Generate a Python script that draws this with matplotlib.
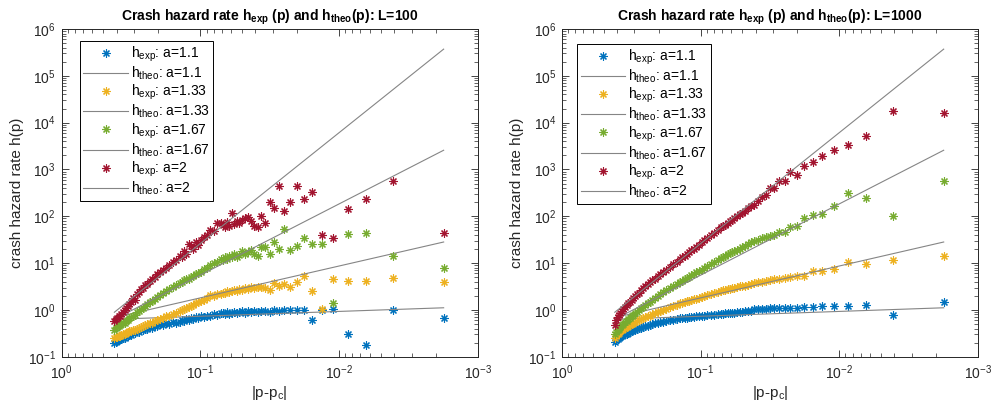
import numpy as np
import matplotlib
matplotlib.use('Agg')
import matplotlib.pyplot as plt
from matplotlib.ticker import LogLocator, LogFormatterSciNotation, NullFormatter

plt.rcParams['font.family'] = ['Liberation Sans', 'DejaVu Sans']
plt.rcParams['mathtext.fontset'] = 'custom'
plt.rcParams['mathtext.rm'] = 'Liberation Sans'
plt.rcParams['mathtext.it'] = 'Liberation Sans:italic'
plt.rcParams['mathtext.bf'] = 'Liberation Sans:bold'

# |p - p_c| values (shared by both system sizes)
abs_p_minus_pc = [
    0.00176, 0.00406, 0.00636, 0.00866, 0.01096, 0.01326, 0.01556, 0.01786, 0.02016, 0.02246,
    0.02476, 0.02706, 0.02936, 0.03166, 0.03396, 0.03626, 0.03856, 0.04086, 0.04316, 0.04546,
    0.04776, 0.05006, 0.05236, 0.05466, 0.05696, 0.05926, 0.06156, 0.06386, 0.06616, 0.06846,
    0.07076, 0.07536, 0.07996, 0.08456, 0.08916, 0.09376, 0.09836, 0.10296, 0.10756, 0.11216,
    0.11676, 0.12136, 0.12596, 0.13056, 0.13516, 0.13976, 0.14896, 0.15816, 0.16736, 0.17656,
    0.18576, 0.19496, 0.20416, 0.21336, 0.22256, 0.23176, 0.24096, 0.25016, 0.25936, 0.26856,
    0.27776, 0.28696, 0.29616, 0.30536, 0.31456, 0.32376, 0.33296, 0.34216, 0.35136, 0.36056,
    0.36976, 0.37896, 0.38816, 0.39736, 0.40656, 0.41576]

a_labels = ['1.1', '1.33', '1.67', '2']

# log10 of experimental hazard rate, L = 100
log10_hexp_L100_a1_1 = [
    -0.183, 0.0, -0.753, -0.51, 0.013, -0.013, -0.22, -0.007, -0.007, -0.007,
    -0.007, -0.02, 0.0, -0.035, -0.025, -0.02, -0.035, -0.03, -0.04, -0.03,
    -0.06, -0.03, -0.05, -0.07, -0.04, -0.06, -0.08, -0.05, -0.09, -0.07,
    -0.06, -0.11, -0.09, -0.13, -0.12, -0.16, -0.14, -0.17, -0.16, -0.20,
    -0.18, -0.22, -0.20, -0.24, -0.22, -0.25, -0.27, -0.25, -0.30, -0.28,
    -0.32, -0.31, -0.35, -0.34, -0.38, -0.37, -0.41, -0.40, -0.44, -0.43,
    -0.47, -0.46, -0.50, -0.50, -0.53, -0.53, -0.56, -0.56, -0.59, -0.59,
    -0.62, -0.63, -0.65, -0.66, -0.68, -0.70]
log10_hexp_L100_a1_33 = [
    0.599, 0.685, 0.627, 0.627, 0.663, 0.009, 0.40, 0.72, 0.60, 0.484,
    0.556, 0.505, 0.578, 0.435, 0.47, 0.48, 0.49, 0.47, 0.48, 0.44,
    0.46, 0.435, 0.45, 0.41, 0.43, 0.40, 0.38, 0.41, 0.37, 0.36,
    0.33, 0.34, 0.30, 0.31, 0.26, 0.22, 0.19, 0.16, 0.14, 0.11,
    0.09, 0.06, 0.04, 0.01, 0.0, -0.03, -0.06, -0.08, -0.12, -0.14,
    -0.17, -0.19, -0.22, -0.24, -0.27, -0.29, -0.31, -0.33, -0.35, -0.37,
    -0.39, -0.40, -0.42, -0.43, -0.45, -0.46, -0.48, -0.49, -0.51, -0.52,
    -0.54, -0.55, -0.56, -0.57, -0.58, -0.61]
log10_hexp_L100_a1_67 = [
    0.898, 1.145, 1.64, 1.62, 0.151, 1.41, 1.41, 1.53, 1.373, 1.288,
    1.736, 1.30, 1.45, 1.196, 1.34, 1.34, 1.145, 1.20, 1.288, 1.23,
    1.19, 1.25, 1.18, 1.14, 1.20, 1.12, 1.16, 1.09, 1.13, 1.06,
    1.08, 1.02, 1.00, 0.95, 0.90, 0.88, 0.80, 0.78, 0.76, 0.72,
    0.70, 0.67, 0.65, 0.63, 0.60, 0.58, 0.53, 0.48, 0.44, 0.40,
    0.36, 0.32, 0.28, 0.24, 0.20, 0.16, 0.12, 0.09, 0.05, 0.02,
    -0.02, -0.05, -0.10, -0.12, -0.16, -0.18, -0.22, -0.24, -0.27, -0.29,
    -0.31, -0.33, -0.35, -0.37, -0.39, -0.42]
log10_hexp_L100_a2 = [
    1.644, 2.759, 2.375, 2.156, 1.537, 1.593, 2.51, 2.375, 2.652, 2.30,
    2.12, 2.638, 2.168, 2.30, 1.857, 2.013, 1.763, 1.785, 1.89, 1.98,
    1.96, 1.93, 1.86, 1.90, 1.84, 2.07, 1.80, 1.87, 1.76, 1.82,
    1.86, 1.857, 1.68, 1.714, 1.60, 1.56, 1.50, 1.38, 1.45, 1.30,
    1.36, 1.416, 1.20, 1.25, 1.12, 1.15, 1.075, 1.02, 0.96, 0.90,
    0.86, 0.80, 0.76, 0.70, 0.66, 0.62, 0.56, 0.53, 0.47, 0.44,
    0.38, 0.33, 0.22, 0.25, 0.17, 0.12, 0.08, 0.03, 0.0, -0.05,
    -0.08, -0.12, -0.14, -0.17, -0.20, -0.24]

# log10 of experimental hazard rate, L = 1000
log10_hexp_L1000_a1_1 = [
    0.164, -0.10, 0.11, 0.08, 0.075, 0.08, 0.06, 0.06, 0.05, 0.045,
    0.045, 0.04, 0.03, 0.035, 0.02, 0.025, 0.01, 0.015, -0.02, -0.03,
    -0.03, -0.045, -0.04, -0.055, -0.06, -0.06, -0.07, -0.065, -0.075, -0.08,
    -0.08, -0.09, -0.10, -0.11, -0.115, -0.12, -0.13, -0.135, -0.14, -0.15,
    -0.155, -0.16, -0.165, -0.17, -0.175, -0.18, -0.20, -0.21, -0.225, -0.24,
    -0.25, -0.265, -0.28, -0.29, -0.305, -0.32, -0.335, -0.35, -0.365, -0.38,
    -0.395, -0.41, -0.425, -0.44, -0.455, -0.47, -0.49, -0.505, -0.52, -0.54,
    -0.56, -0.58, -0.60, -0.62, -0.65, -0.69]
log10_hexp_L1000_a1_33 = [
    1.16, 1.075, 0.983, 1.02, 0.876, 0.84, 0.84, 0.72, 0.725, 0.70,
    0.68, 0.665, 0.655, 0.64, 0.625, 0.60, 0.585, 0.57, 0.555, 0.535,
    0.52, 0.51, 0.50, 0.49, 0.475, 0.465, 0.455, 0.445, 0.43, 0.415,
    0.40, 0.38, 0.36, 0.34, 0.32, 0.295, 0.27, 0.255, 0.24, 0.225,
    0.21, 0.195, 0.18, 0.165, 0.15, 0.14, 0.115, 0.085, 0.055, 0.025,
    0.0, -0.025, -0.05, -0.07, -0.095, -0.12, -0.14, -0.16, -0.18, -0.20,
    -0.22, -0.24, -0.26, -0.28, -0.30, -0.32, -0.34, -0.36, -0.385, -0.41,
    -0.435, -0.46, -0.49, -0.52, -0.555, -0.60]
log10_hexp_L1000_a1_67 = [
    2.753, 2.0, 2.4, 2.503, 2.21, 2.05, 2.03, 1.96, 1.785, 1.76,
    1.665, 1.67, 1.60, 1.58, 1.565, 1.53, 1.50, 1.47, 1.44, 1.41,
    1.36, 1.335, 1.305, 1.28, 1.255, 1.23, 1.205, 1.185, 1.16, 1.13,
    1.10, 1.06, 1.02, 0.98, 0.94, 0.90, 0.86, 0.83, 0.80, 0.765,
    0.735, 0.705, 0.675, 0.65, 0.625, 0.60, 0.55, 0.50, 0.46, 0.42,
    0.375, 0.335, 0.295, 0.255, 0.215, 0.175, 0.14, 0.10, 0.065, 0.03,
    -0.005, -0.04, -0.075, -0.11, -0.14, -0.17, -0.20, -0.23, -0.265, -0.30,
    -0.33, -0.365, -0.40, -0.435, -0.47, -0.52]
log10_hexp_L1000_a2 = [
    4.20, 4.258, 3.72, 3.512, 3.405, 3.29, 3.165, 3.064, 2.88, 2.945,
    2.76, 2.76, 2.60, 2.60, 2.445, 2.405, 2.32, 2.25, 2.22, 2.17,
    2.12, 2.08, 2.04, 2.00, 1.96, 1.93, 1.89, 1.86, 1.82, 1.79,
    1.76, 1.70, 1.64, 1.59, 1.535, 1.485, 1.44, 1.395, 1.35, 1.31,
    1.27, 1.23, 1.195, 1.16, 1.125, 1.09, 1.03, 0.97, 0.91, 0.86,
    0.81, 0.76, 0.715, 0.67, 0.63, 0.585, 0.545, 0.505, 0.47, 0.43,
    0.37, 0.33, 0.29, 0.25, 0.21, 0.175, 0.14, 0.10, 0.06, 0.02,
    -0.02, -0.065, -0.11, -0.16, -0.22, -0.33]

# theoretical power laws (end points), log10 h
theo_x = [0.41576, 0.00176]
log10_htheo_a1_1 = [-0.20, 0.045]
log10_htheo_a1_33 = [-0.165, 1.45]
log10_htheo_a1_67 = [-0.20, 3.41]
log10_htheo_a2 = [-0.05, 5.57]

exp_L100 = [log10_hexp_L100_a1_1, log10_hexp_L100_a1_33, log10_hexp_L100_a1_67, log10_hexp_L100_a2]
exp_L1000 = [log10_hexp_L1000_a1_1, log10_hexp_L1000_a1_33, log10_hexp_L1000_a1_67, log10_hexp_L1000_a2]
theo = [log10_htheo_a1_1, log10_htheo_a1_33, log10_htheo_a1_67, log10_htheo_a2]

colors = ['#0072BD', '#EDB120', '#77AC30', '#A2142F']
theo_color = '#858585'
axis_color = '#262626'
asterisk = (8, 2, 0)

W, H = 996, 408
fig = plt.figure(figsize=(W / 100, H / 100), dpi=100)
ax1 = fig.add_axes([61.5 / W, (H - 356.7) / H, 416.2 / W, 327.7 / H])
ax2 = fig.add_axes([562 / W, (H - 356.7) / H, 415.7 / W, 327.7 / H])

panels = [(ax1, exp_L100, 'L=100', (0.0445, 0.963)),
          (ax2, exp_L1000, 'L=1000', (0.037, 0.954))]

x = np.array(abs_p_minus_pc)
for ax, exps, Ltxt, legpos in panels:
    ax.set_xscale('log')
    ax.set_yscale('log')
    for i, a in enumerate(a_labels):
        ax.plot(x, 10 ** np.array(exps[i]), linestyle='none', marker=asterisk,
                markersize=5.8, markeredgewidth=0.8, color=colors[i],
                label='h$_{\\rm exp}$: a=' + a)
        ax.plot(theo_x, 10 ** np.array(theo[i]), color=theo_color, lw=0.8,
                label='h$_{\\rm theo}$: a=' + a)
    ax.set_xlim(1, 1e-3)
    ax.set_ylim(1e-1, 1e6)
    ax.xaxis.set_major_locator(LogLocator(base=10, numticks=10))
    ax.xaxis.set_minor_locator(LogLocator(base=10, subs=np.arange(2, 10), numticks=10))
    ax.yaxis.set_major_locator(LogLocator(base=10, numticks=20))
    ax.yaxis.set_minor_locator(LogLocator(base=10, subs=np.arange(2, 10), numticks=20))
    ax.xaxis.set_minor_formatter(NullFormatter())
    ax.yaxis.set_minor_formatter(NullFormatter())
    ax.tick_params(which='both', direction='in', top=True, right=True,
                   color=axis_color, labelcolor=axis_color, labelsize=10)
    ax.tick_params(which='major', length=5, width=0.6)
    ax.tick_params(which='minor', length=3, width=0.5)
    ax.tick_params(axis='x', which='major', pad=5)
    ax.tick_params(axis='y', which='major', pad=4)
    for s in ax.spines.values():
        s.set_linewidth(0.7)
        s.set_color(axis_color)
    ax.set_xlabel('|p-p$_{\\rm c}$|', fontsize=11, color=axis_color, labelpad=1)
    ax.set_ylabel('crash hazard rate h(p)', fontsize=11, color=axis_color, labelpad=3)
    ax.set_title('Crash hazard rate h$_{\\mathbf{exp}}$ (p) and h$_{\\mathbf{theo}}$(p): ' + Ltxt,
                 fontsize=10, fontweight='bold', pad=6)
    leg = ax.legend(loc='upper left', bbox_to_anchor=legpos, borderaxespad=0,
                    fontsize=10, frameon=True, fancybox=False, edgecolor='black',
                    framealpha=1, handlelength=3.2, handletextpad=0.2,
                    labelspacing=0.06, borderpad=0.25, numpoints=1)
    leg.get_frame().set_linewidth(0.7)

fig.savefig('out.png', dpi=100)
